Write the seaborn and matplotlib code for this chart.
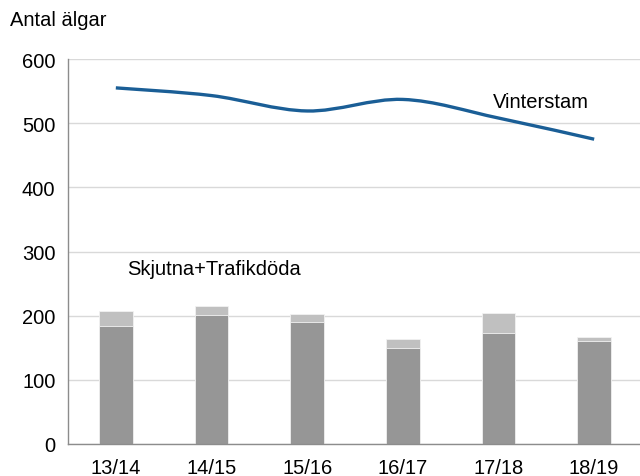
import numpy as np
import pandas as pd
import matplotlib
matplotlib.use("Agg")
import matplotlib.pyplot as plt
from matplotlib.path import Path
from matplotlib.patches import PathPatch
import seaborn as sns

seasons = ["13/14", "14/15", "15/16", "16/17", "17/18", "18/19"]
skjutna = [184, 201, 190, 149, 173, 160]
trafikdoda = [24, 14, 12, 15, 31, 7]
vinterstam = [555, 543, 519, 537, 508, 475]

sns.set_theme(style="white")
plt.rcParams['font.family'] = ['Liberation Sans', 'DejaVu Sans']
plt.rcParams['text.color'] = 'black'

fig = plt.figure(figsize=(6.4, 4.77), dpi=100)
ax = fig.add_axes([68/640, 1 - 445/477, 574/640, 385/477])

df = pd.DataFrame({"season": seasons, "skjutna": skjutna,
                   "total": np.array(skjutna) + np.array(trafikdoda)})
sns.barplot(data=df, x="season", y="total", color="#C0C0C0", width=0.35,
            edgecolor="#F2F2F2", linewidth=0.6, ax=ax, zorder=2)
sns.barplot(data=df, x="season", y="skjutna", color="#969696", width=0.35,
            edgecolor="#F2F2F2", linewidth=0.6, ax=ax, zorder=3)

# smoothed line (Catmull-Rom style Bezier, like Excel's smoothed line)
xs = np.arange(len(vinterstam), dtype=float)
ys = np.array(vinterstam, dtype=float)
verts = [(xs[0], ys[0])]
codes = [Path.MOVETO]
n = len(xs)
t = 1/6
for i in range(n - 1):
    p0 = (xs[i-1], ys[i-1]) if i > 0 else (xs[i], ys[i])
    p1 = (xs[i], ys[i]); p2 = (xs[i+1], ys[i+1])
    p3 = (xs[i+2], ys[i+2]) if i + 2 < n else (xs[i+1], ys[i+1])
    c1 = (p1[0] + (p2[0]-p0[0])*t, p1[1] + (p2[1]-p0[1])*t)
    c2 = (p2[0] - (p3[0]-p1[0])*t, p2[1] - (p3[1]-p1[1])*t)
    verts += [c1, c2, p2]
    codes += [Path.CURVE4]*3
ax.add_patch(PathPatch(Path(verts, codes), facecolor="none",
                       edgecolor="#1A5E96", linewidth=2.4, zorder=4,
                       capstyle="butt"))

ax.set_xlim(-0.5, 5.5)
ax.set_ylim(0, 600)
ax.set_yticks(range(0, 601, 100))
ax.set_xlabel("")
ax.set_ylabel("")
ax.yaxis.grid(True, color="#D9D9D9", linewidth=1)
ax.set_axisbelow(True)
for s in ["top", "right"]:
    ax.spines[s].set_visible(False)
for s in ["left", "bottom"]:
    ax.spines[s].set_color("#8C8C8C")
    ax.spines[s].set_linewidth(1)
ax.spines["bottom"].set_zorder(5)

fs = 14.5
ax.set_xticks(np.arange(len(seasons)))
ax.set_xticklabels(seasons)
ax.set_xticks(np.arange(len(seasons) + 1) - 0.5, minor=True)
ax.tick_params(axis="x", which="major", length=0, labelsize=fs, pad=10, colors="black")
ax.tick_params(axis="x", which="minor", length=5, width=1, color="#8C8C8C", direction="out")
ax.tick_params(axis="y", length=5, width=1, color="#8C8C8C", direction="out",
               labelsize=fs, pad=4, labelcolor="black")
ax.tick_params(axis="x", labelcolor="black")

fig.text(10/640, 1 - 20/477, "Antal älgar", fontsize=fs, va="center", ha="left", color="black")
ax.text(3.94, 533, "Vinterstam", fontsize=fs, va="center", ha="left", color="black")
ax.text(0.117, 273, "Skjutna+Trafikdöda", fontsize=fs, va="center", ha="left", color="black")

fig.savefig("out.png", dpi=100)
